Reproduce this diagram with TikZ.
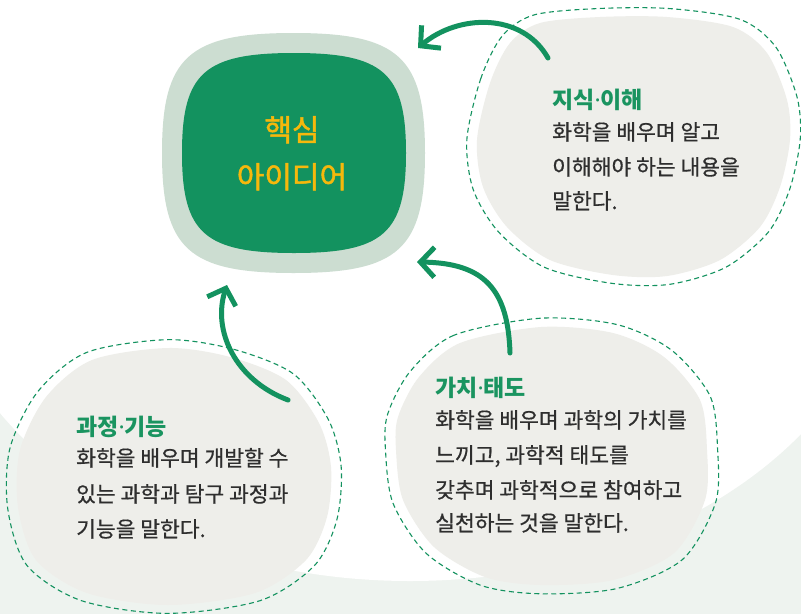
\documentclass[tikz,border=0pt]{standalone}
\usepackage{fontspec}
\setmainfont{Noto Sans CJK KR}
\newfontfamily\krmed{Noto Sans CJK KR}[FakeBold=0.6]
\newfontfamily\krcore{Noto Sans CJK KR}[FakeBold=1.6]
\newfontfamily\latdot{Noto Sans}
\newcommand{\mdot}{{\latdot\bfseries ·}}
\usetikzlibrary{arrows.meta}
\definecolor{gmain}{HTML}{13925F}
\definecolor{gring}{HTML}{CCDDD1}
\definecolor{gfill}{HTML}{EEEEEA}
\definecolor{gbg}{HTML}{EEF3EF}
\definecolor{gtitle}{HTML}{1A9460}
\definecolor{gtext}{HTML}{2E2E2E}
\definecolor{gyel}{HTML}{F6B80C}
\begin{document}
\begin{tikzpicture}[x=1pt,y=-1pt,
  bodytxt/.style={anchor=base west, inner sep=0pt, font=\krmed\fontsize{21.5}{24}\selectfont, text=gtext},
  titletxt/.style={anchor=base west, inner sep=0pt, font=\fontsize{23}{26}\selectfont\bfseries, text=gtitle},
  coretxt/.style={anchor=base, inner sep=0pt, font=\krcore\fontsize{30}{32}\selectfont, text=gyel},
  blobfill/.style={fill=gfill},
  dashline/.style={draw=gmain, line width=1.1pt, dash pattern=on 5pt off 3.5pt},
  arr/.style={draw=gmain, line width=5pt, line cap=round, -{Straight Barb[length=14pt,width=30pt]}}
]
\useasboundingbox (0,0) rectangle (801,614);
\clip (0,0) rectangle (801,614);
% background
\fill[gbg] (0,0) rectangle (801,614);
\fill[white] (0,0) rectangle (801,231);
\fill[white] (410,231) ellipse [x radius=480, y radius=350];

% blob 2 (top right)
\def\blobB{plot[smooth cycle] coordinates {(-156,-7) (-143,-64) (-123,-104) (-93,-124) (-33,-130) (34,-130) (100,-120) (134,-94) (154,-47) (157,-7) (147,40) (127,80) (87,113) (34,129) (-20,128) (-83,113) (-126,80) (-150,40)}}
\begin{scope}[shift={(633,147)}]
  \path[blobfill] \blobB;
  \begin{scope}[scale=1.065]\path[dashline] \blobB;\end{scope}
\end{scope}

% blob 3 (bottom middle)
\def\blobC{plot[smooth cycle] coordinates {(-10,-129) (-91,-113) (-132,-79) (-153,-39) (-155,-6) (-148,44) (-117,91) (-66,121) (-10,129) (62,124) (123,97) (154,44) (156,-6) (149,-56) (113,-99) (62,-123)}}
\begin{scope}[shift={(551,456)}]
  \path[blobfill] \blobC;
  \begin{scope}[scale=1.068]\path[dashline] \blobC;\end{scope}
\end{scope}

% blob 1 (bottom left)
\def\blobA{plot[smooth cycle] coordinates {(-7,-128) (55,-119) (111,-96) (144,-53) (156,-9) (152,41) (131,84) (80,117) (-7,129) (-88,117) (-139,84) (-157,31) (-155,-26) (-129,-79) (-83,-116)}}
\begin{scope}[shift={(175,476)}]
  \path[blobfill] \blobA;
  \begin{scope}[scale=1.065]\path[dashline] \blobA;\end{scope}
\end{scope}

% core blob
\fill[gring] (293.5,33) .. controls (398.5,33) and (425,57) .. (425,153) .. controls (425,249) and (398.5,273) .. (293.5,273) .. controls (188.5,273) and (162,249) .. (162,153) .. controls (162,57) and (188.5,33) .. (293.5,33) -- cycle;
\fill[gmain] (294,53) .. controls (383.6,53) and (406,73) .. (406,153) .. controls (406,233) and (383.6,253) .. (294,253) .. controls (204.4,253) and (182,233) .. (182,153) .. controls (182,73) and (204.4,53) .. (294,53) -- cycle;
\node[coretxt] (core1) at (292,141) {핵심};
\node[coretxt] (core2) at (292,188) {아이디어};

% arrows
\coordinate (a1s) at (548,58);
\coordinate (a1t) at (418,48);
\coordinate (a2s) at (510,353);
\coordinate (a2t) at (417,262);
\coordinate (a3s) at (288,400);
\coordinate (a3t) at (227,285);
\draw[arr] (a1s) .. controls (522,12) and (458,14) .. (a1t);
\draw[arr] (a2s) .. controls (508,290) and (485,263) .. (a2t);
\draw[arr] (a3s) .. controls (235,380) and (212,330) .. (a3t);

% texts blob 2
\node[titletxt] (t2) at (552,108) {지식\mdot 이해};
\node[bodytxt] (b2a) at (552,140) {화학을 배우며 알고};
\node[bodytxt] (b2b) at (552,175) {이해해야 하는 내용을};
\node[bodytxt] (b2c) at (552,209) {말한다.};

% texts blob 3
\node[titletxt] (t3) at (435,396) {가치\mdot 태도};
\node[bodytxt] (b3a) at (435,428) {화학을 배우며 과학의 가치를};
\node[bodytxt] (b3b) at (435,463) {느끼고, 과학적 태도를};
\node[bodytxt] (b3c) at (435,498) {갖추며 과학적으로 참여하고};
\node[bodytxt] (b3d) at (435,531) {실천하는 것을 말한다.};

% texts blob 1
\node[titletxt] (t1) at (76,435) {과정\mdot 기능};
\node[bodytxt] (b1a) at (76,466) {화학을 배우며 개발할 수};
\node[bodytxt] (b1b) at (76,502) {있는 과학과 탐구 과정과};
\node[bodytxt] (b1c) at (76,537) {기능을 말한다.};
\end{tikzpicture}
\end{document}
